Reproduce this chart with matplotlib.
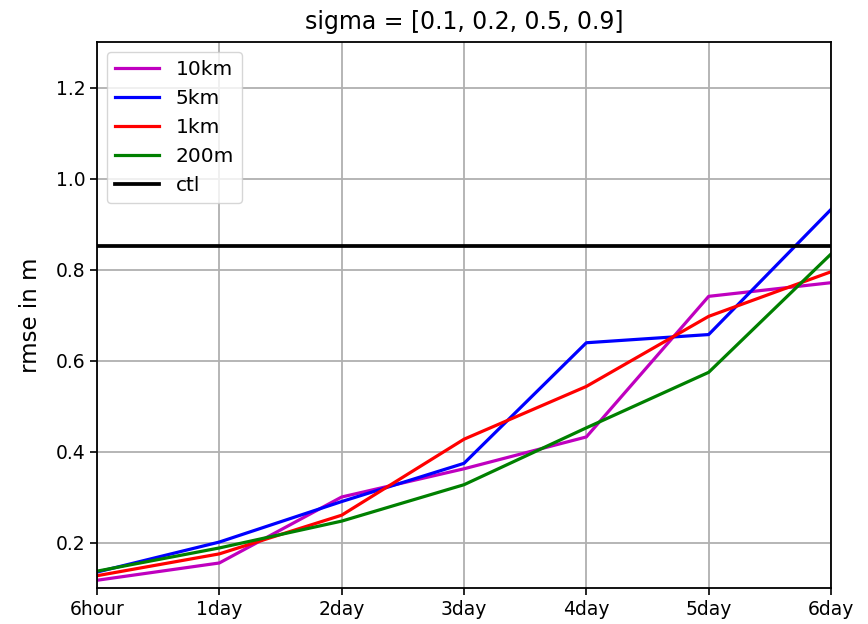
import matplotlib
matplotlib.use("Agg")
import matplotlib.pyplot as plt

leads = ["6hour", "1day", "2day", "3day", "4day", "5day", "6day"]
rmse_10km = [0.117, 0.155, 0.300, 0.362, 0.432, 0.741, 0.771]
rmse_5km = [0.135, 0.201, 0.290, 0.374, 0.639, 0.657, 0.932]
rmse_1km = [0.127, 0.175, 0.260, 0.427, 0.543, 0.697, 0.795]
rmse_200m = [0.137, 0.188, 0.247, 0.327, 0.452, 0.574, 0.834]
ctl = 0.851

fig = plt.figure(figsize=(8.68, 6.24), dpi=100)
ax = fig.add_axes([97 / 868, 1 - 588 / 624, (831 - 97) / 868, (588 - 42) / 624])

x = range(len(leads))
ax.plot(x, rmse_10km, color="m", lw=2.3, label="10km")
ax.plot(x, rmse_5km, color="b", lw=2.3, label="5km")
ax.plot(x, rmse_1km, color="r", lw=2.3, label="1km")
ax.plot(x, rmse_200m, color="g", lw=2.3, label="200m")
ax.axhline(ctl, color="k", lw=2.7, label="ctl")

ax.set_xlim(0, len(leads) - 1)
ax.set_ylim(0.1, 1.3)
ax.set_xticks(list(x))
ax.set_xticklabels(leads)
ax.set_yticks([0.2, 0.4, 0.6, 0.8, 1.0, 1.2])
ax.tick_params(labelsize=13.5, length=5, width=1.2)
for s in ax.spines.values():
    s.set_linewidth(1.3)
ax.grid(True, color="#b0b0b0", lw=1.3)
ax.set_ylabel("rmse in m", fontsize=16.5, labelpad=10)
ax.set_title("sigma = [0.1, 0.2, 0.5, 0.9]", fontsize=17, pad=9)
ax.legend(loc="upper left", fontsize=14.5, handlelength=2.2)

fig.savefig("out.png", dpi=100)
